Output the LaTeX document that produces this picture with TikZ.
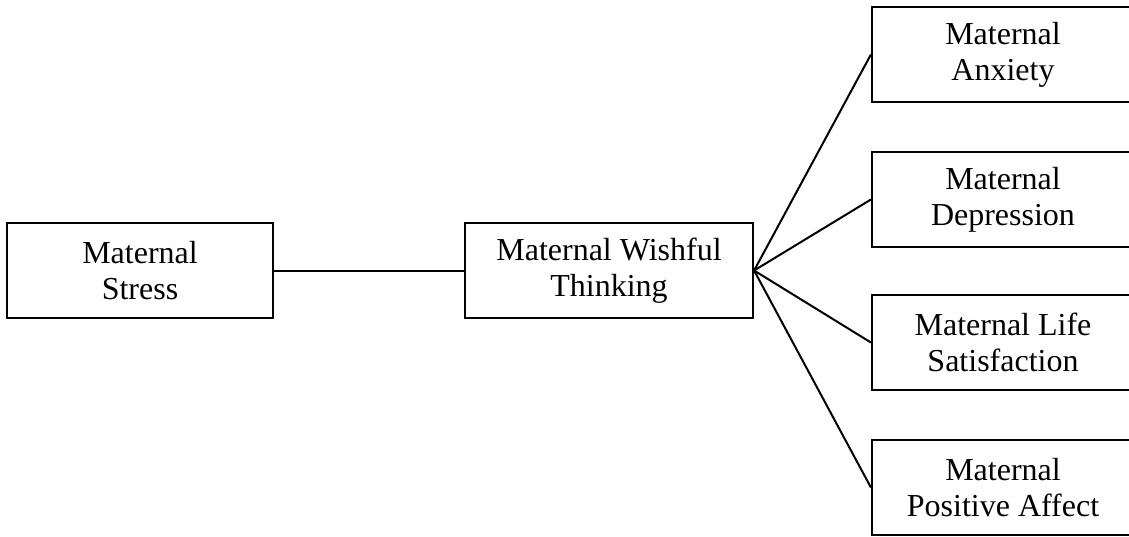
\documentclass[tikz,border=0pt]{standalone}
\usepackage{fontspec}
\setmainfont{Liberation Serif}
\begin{document}
\begin{tikzpicture}[x=1pt,y=-1pt,
  box/.style={draw=black, line width=2.2pt, inner sep=0pt, align=center,
    minimum height=95pt, font=\fontsize{32}{36}\selectfont},
  link/.style={draw=black, line width=2pt}]
\clip (0,0) rectangle (1129,536);
\fill[white] (0,0) rectangle (1129,536);
\node[box, minimum width=266pt] (stress) at (140,270.5) {Maternal\\Stress};
\node[box, minimum width=288pt] (wish) at (609,270.5) {Maternal Wishful\\Thinking};
\node[box, minimum width=262pt] (anx) at (1003,54.5) {Maternal\\Anxiety};
\node[box, minimum width=262pt] (dep) at (1003,199.5) {Maternal\\Depression};
\node[box, minimum width=262pt] (life) at (1003,342.5) {Maternal Life\\Satisfaction};
\node[box, minimum width=262pt] (pos) at (1003,487.5) {Maternal\\Positive Affect};
\draw[link] (stress.east) -- (wish.west);
\draw[link] (wish.east) -- (anx.west);
\draw[link] (wish.east) -- (dep.west);
\draw[link] (wish.east) -- (life.west);
\draw[link] (wish.east) -- (pos.west);
\end{tikzpicture}
\end{document}
